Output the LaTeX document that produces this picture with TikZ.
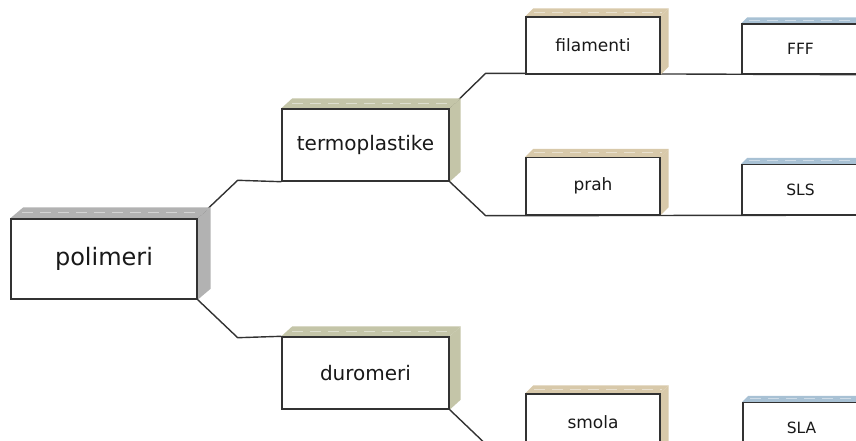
\documentclass[tikz,border=0pt]{standalone}
\usepackage{fontspec}
\setmainfont{DejaVu Sans}
\usetikzlibrary{calc,backgrounds}

\definecolor{rootgray}{RGB}{178,178,178}
\definecolor{olivegray}{RGB}{196,197,168}
\definecolor{tanbox}{RGB}{216,201,170}
\definecolor{bluebox}{RGB}{168,193,212}
\definecolor{linegray}{RGB}{50,50,50}

% 3D faces behind a front box: node, dx, dy, colour
\newcommand{\boxfaces}[4]{%
    \fill[#4] (#1.north west) -- ++(#2,-#3) -- ($(#1.north east)+(#2,-#3)$) -- (#1.north east) -- cycle;
    \fill[#4] (#1.north east) -- ++(#2,-#3) -- ($(#1.south east)+(#2,-#3)$) -- (#1.south east) -- cycle;
    \draw[white, opacity=0.45, line width=0.8pt, dash pattern=on 11pt off 7pt]
        ($(#1.north west)+(#2/2+5,-#3/2)$) -- ($(#1.north east)+(#2/2-3,-#3/2)$);
}

\begin{document}
\begin{tikzpicture}[
    x=1pt, y=-1pt,
    frontbox/.style={
        rectangle,
        draw=linegray,
        line width=1.4pt,
        fill=white,
        inner sep=0pt,
        align=center,
        text=black!90
    },
    rootbox/.style={frontbox, minimum width=186pt, minimum height=80pt, font=\fontsize{24}{28}\selectfont},
    classbox/.style={frontbox, minimum width=167pt, minimum height=72pt, font=\fontsize{20}{24}\selectfont},
    formbox/.style={frontbox, minimum width=134pt, minimum height=57pt, font=\fontsize{17}{20}\selectfont},
    procbox/.style={frontbox, minimum width=117pt, minimum height=50pt, font=\fontsize{15.5}{19}\selectfont},
    link/.style={draw=linegray, line width=1.4pt}
]

\useasboundingbox (0,0) rectangle (856,441);
\clip (0,0) rectangle (856,441);

% Root and material classes
\node [rootbox] (polimeri) at (104,259) {polimeri};
\node [classbox] (termo) at (365.5,145) {termoplastike};
\node [classbox] (duro) at (365.5,373) {duromeri};

% Material forms
\node [formbox] (filament) at (593,45.5) {filamenti};
\node [formbox] (prah) at (593,186) {prah};
\node [formbox] (smola) at (593,422.5) {smola};

% Printing processes
\node [procbox] (fff) at (800.5,49) {FFF};
\node [procbox] (sls) at (800.5,189.5) {SLS};
\node [procbox] (sla) at (801.5,427.5) {SLA};

\begin{scope}[on background layer]
    % Connections
    \draw [link] (polimeri.north east) -- ++(40,-38) -- (termo.south west);
    \draw [link] (polimeri.south east) -- ++(40,38) -- (duro.north west);
    \draw [link] (termo.north east) -- ++(36,-35) -- (fff.south east);
    \draw [link] (termo.south east) -- ++(36,34) -- (sls.south east);
    \draw [link] (duro.south east) -- ++(44,42) -- (sla.south east);

    % Box depth
    \boxfaces{polimeri}{13}{11}{rootgray}
    \boxfaces{termo}{11}{10}{olivegray}
    \boxfaces{duro}{11}{10}{olivegray}
    \boxfaces{filament}{8}{8}{tanbox}
    \boxfaces{prah}{8}{8}{tanbox}
    \boxfaces{smola}{8}{8}{tanbox}
    \boxfaces{fff}{6}{6}{bluebox}
    \boxfaces{sls}{6}{6}{bluebox}
    \boxfaces{sla}{6}{6}{bluebox}
\end{scope}

\end{tikzpicture}
\end{document}
